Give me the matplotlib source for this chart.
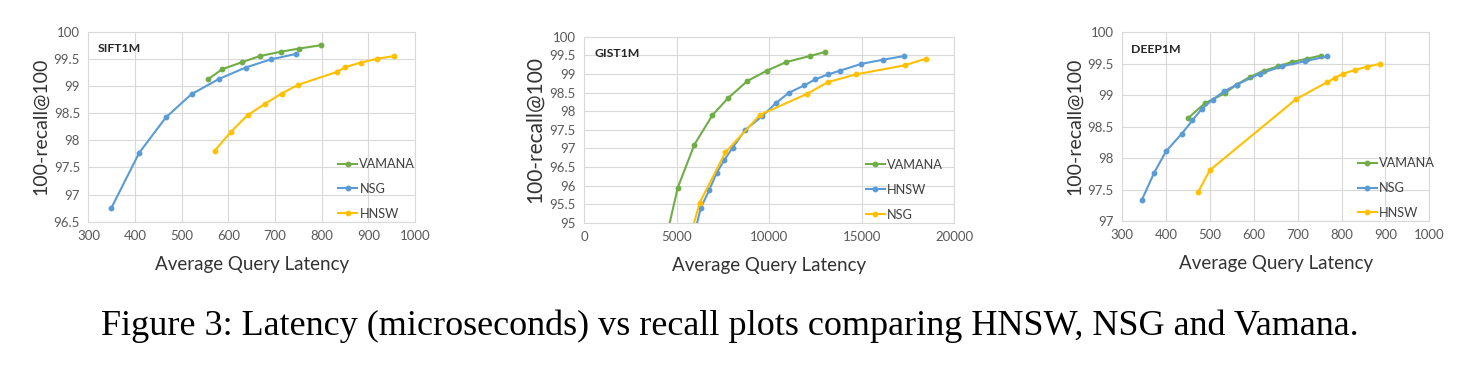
import numpy as np
import matplotlib
matplotlib.use("Agg")
import matplotlib.pyplot as plt
from matplotlib.ticker import FuncFormatter, MultipleLocator

# SIFT1M
sift_vamana_x = [556, 587, 630, 667, 712, 752, 798]
sift_vamana_y = [99.12, 99.31, 99.44, 99.55, 99.63, 99.69, 99.75]
sift_nsg_x = [349, 409, 466, 521, 580, 637, 691, 745]
sift_nsg_y = [96.75, 97.77, 98.42, 98.85, 99.13, 99.34, 99.49, 99.59]
sift_hnsw_x = [571, 606, 641, 678, 714, 749, 833, 851, 884, 918, 954]
sift_hnsw_y = [97.81, 98.16, 98.46, 98.67, 98.86, 99.02, 99.26, 99.35, 99.43, 99.50, 99.55]

# GIST1M (first point of each series sits below the axis floor)
gist_vamana_x = [4300, 5054, 5955, 6928, 7775, 8820, 9883, 10928, 12189, 13018]
gist_vamana_y = [94.3, 95.94, 97.10, 97.89, 98.35, 98.81, 99.09, 99.32, 99.48, 99.59]
gist_hnsw_x = [5900, 6297, 6748, 7162, 7577, 8027, 8712, 9613, 10369, 11054, 11883,
               12477, 13198, 13847, 14982, 16135, 17288]
gist_hnsw_y = [94.6, 95.39, 95.87, 96.34, 96.69, 97.02, 97.50, 97.86, 98.22, 98.49, 98.69,
               98.85, 98.99, 99.09, 99.27, 99.38, 99.48]
gist_nsg_x = [5600, 6243, 7631, 9505, 12027, 13180, 14712, 17324, 18459]
gist_nsg_y = [94.4, 95.54, 96.89, 97.90, 98.46, 98.78, 98.99, 99.23, 99.41]

# DEEP1M
deep_vamana_x = [451, 488, 534, 561, 591, 623, 656, 688, 721, 753]
deep_vamana_y = [98.64, 98.87, 99.03, 99.17, 99.29, 99.39, 99.46, 99.53, 99.58, 99.63]
deep_nsg_x = [345, 373, 400, 436, 460, 481, 506, 532, 562, 613, 665, 717, 768]
deep_nsg_y = [97.34, 97.77, 98.11, 98.39, 98.60, 98.78, 98.93, 99.06, 99.17, 99.34, 99.46, 99.54, 99.62]
deep_hnsw_x = [473, 500, 697, 768, 786, 803, 830, 857, 888]
deep_hnsw_y = [97.46, 97.81, 98.94, 99.21, 99.28, 99.34, 99.40, 99.45, 99.50]

GREEN = "#70AD47"
BLUE = "#5B9BD5"
YELLOW = "#FFC000"
GRID = "#D9D9D9"
TXT = "#595959"

plt.rcParams["font.family"] = ["Lato", "DejaVu Sans"]

fig = plt.figure(figsize=(14.78, 3.80), dpi=100)

fmt = FuncFormatter(lambda v, p: "%g" % v)


def setup(ax, xlim, ylim, xstep, name, ylab_size=14):
    ax.set_xlim(*xlim)
    ax.set_ylim(*ylim)
    ax.xaxis.set_major_locator(MultipleLocator(xstep))
    ax.yaxis.set_major_locator(MultipleLocator(0.5))
    ax.yaxis.set_major_formatter(fmt)
    ax.xaxis.set_major_formatter(fmt)
    ax.grid(True, color=GRID, linewidth=0.8)
    ax.set_axisbelow(True)
    for s in ax.spines.values():
        s.set_color(GRID)
        s.set_linewidth(0.8)
    ax.tick_params(length=0, labelsize=9.5, colors=TXT, pad=6)
    ax.set_xlabel("Average Query Latency", fontsize=13.5, color="#333333", labelpad=10)
    ax.set_ylabel("100-recall@100", fontsize=ylab_size, color="#333333", labelpad=3)
    ax.text(0.027, 0.91, name, transform=ax.transAxes, fontsize=8.8,
            fontweight="bold", color="#262626", ha="left", va="center")


def draw(ax, x, y, color, label):
    ax.plot(x, y, color=color, linewidth=1.5, marker="o", markersize=3.2, label=label)


def legend(ax):
    ax.legend(loc="lower left", bbox_to_anchor=(0.73, -0.05), frameon=False,
              fontsize=9.2, labelspacing=1.0, handlelength=1.5, handletextpad=0.15,
              labelcolor="#404040")


ax1 = fig.add_axes([0.0598, 0.4166, 0.2210, 0.5])
draw(ax1, sift_vamana_x, sift_vamana_y, GREEN, "VAMANA")
draw(ax1, sift_nsg_x, sift_nsg_y, BLUE, "NSG")
draw(ax1, sift_hnsw_x, sift_hnsw_y, YELLOW, "HNSW")
setup(ax1, (300, 1000), (96.5, 100), 100, "SIFT1M")
legend(ax1)

ax2 = fig.add_axes([0.3953, 0.4139, 0.2503, 0.4895])
draw(ax2, gist_vamana_x, gist_vamana_y, GREEN, "VAMANA")
draw(ax2, gist_hnsw_x, gist_hnsw_y, BLUE, "HNSW")
draw(ax2, gist_nsg_x, gist_nsg_y, YELLOW, "NSG")
setup(ax2, (0, 20000), (95, 100), 5000, "GIST1M", ylab_size=15)
legend(ax2)

ax3 = fig.add_axes([0.7593, 0.4184, 0.2077, 0.4966])
draw(ax3, deep_vamana_x, deep_vamana_y, GREEN, "VAMANA")
draw(ax3, deep_nsg_x, deep_nsg_y, BLUE, "NSG")
draw(ax3, deep_hnsw_x, deep_hnsw_y, YELLOW, "HNSW")
setup(ax3, (300, 1000), (97, 100), 100, "DEEP1M")
legend(ax3)

fig.text(0.494, 0.142, "Figure 3: Latency (microseconds) vs recall plots comparing HNSW, NSG and Vamana.",
         family=["Liberation Serif", "DejaVu Serif"], fontsize=26, ha="center", va="center",
         color="black")

fig.savefig("out.png", dpi=100)
